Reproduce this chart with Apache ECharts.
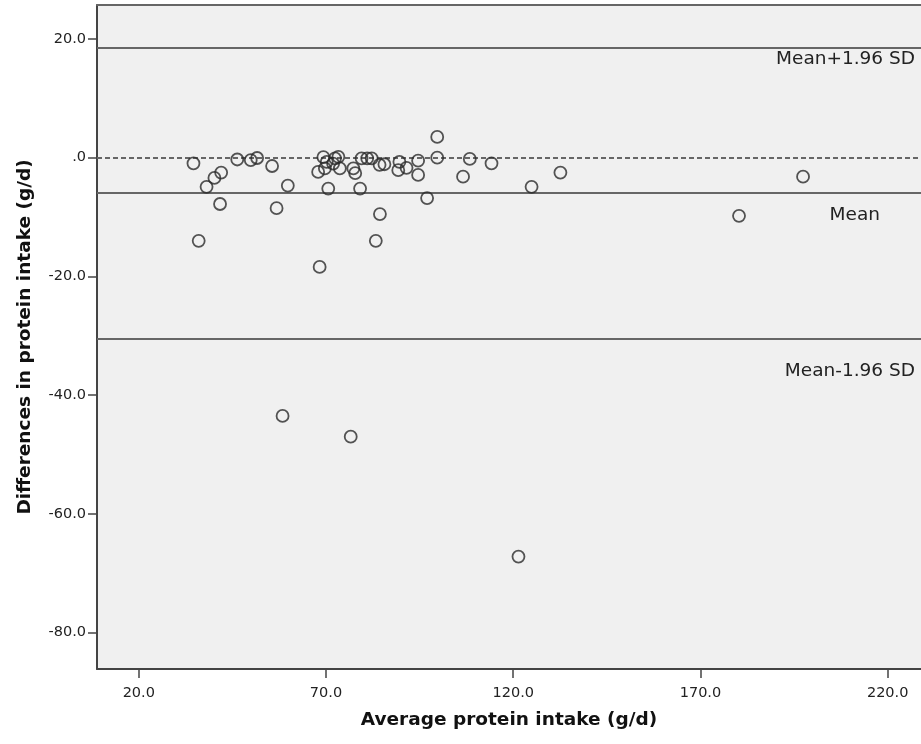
<!DOCTYPE html>
<html>
<head>
<meta charset="utf-8">
<script src="https://cdn.jsdelivr.net/npm/echarts@6/dist/echarts.min.js"></script>
<style>
html,body{margin:0;padding:0;background:#fff;}
#c{width:921px;height:744px;}
</style>
</head>
<body>
<div id="c"></div>
<script>
// Average protein intake (g/d)
const avgIntake = [34.6,36.0,38.1,40.2,42.0,41.7,46.3,49.9,51.6,55.6,56.8,58.4,59.8,67.9,68.3,69.3,69.7,70.2,70.6,71.9,72.4,73.3,73.7,76.6,77.3,77.8,79.1,79.5,81.0,82.2,83.3,84.4,84.3,85.6,89.3,89.6,91.5,94.6,94.6,97.0,99.7,99.7,106.6,108.4,114.2,121.4,124.9,132.6,180.3,197.4];
// Differences in protein intake (g/d)
const diffIntake = [-0.95,-14.0,-4.9,-3.4,-2.5,-7.8,-0.3,-0.4,-0.05,-1.4,-8.5,-43.5,-4.7,-2.4,-18.4,0.1,-1.8,-0.7,-5.2,-1.0,-0.1,0.15,-1.8,-47.0,-1.8,-2.6,-5.2,-0.1,-0.1,-0.1,-14.0,-9.5,-1.2,-1.1,-2.1,-0.7,-1.7,-0.5,-2.9,-6.8,3.5,0.0,-3.2,-0.2,-0.95,-67.2,-4.9,-2.5,-9.8,-3.2];
const meanDiff = -5.95;
const upperLoA = 18.55;
const lowerLoA = -30.45;
const xTicks = [20,70,120,170,220];
const yTicks = [-80,-60,-40,-20,0,20];
const refLabels = ['Mean+1.96 SD','Mean','Mean-1.96 SD'];

const points = avgIntake.map((x,i)=>[x,diffIntake[i]]);
const chart = echarts.init(document.getElementById('c'),null,{renderer:'canvas'});
const font = 'DejaVu Sans, sans-serif';
const refLabel = (text, dx, dy) => ({show:true,formatter:text,position:'insideEndBottom',distance:[dx,dy],fontFamily:font,fontSize:18.5,color:'#222'});
chart.setOption({
  animation:false,
  backgroundColor:'#ffffff',
  grid:{left:97,top:5,right:0,bottom:75,show:true,backgroundColor:'#f0f0f0',borderWidth:0,containLabel:false},
  xAxis:[{
    type:'value',min:8.84,max:228.9,
    name:'Average protein intake (g/d)',nameLocation:'middle',nameGap:42,
    nameTextStyle:{fontFamily:font,fontWeight:'bold',fontSize:18.5,color:'#111'},
    axisLine:{show:true,onZero:false,lineStyle:{color:'#444',width:2}},
    axisTick:{show:true,length:9,customValues:xTicks,lineStyle:{color:'#444',width:1.5}},
    axisLabel:{customValues:xTicks,formatter:v=>v.toFixed(1),fontFamily:font,fontSize:14.5,color:'#222',margin:17},
    splitLine:{show:false}
  },{
    type:'value',position:'top',min:8.84,max:228.9,
    axisLine:{show:true,onZero:false,lineStyle:{color:'#666',width:2}},
    axisTick:{show:false},axisLabel:{show:false},splitLine:{show:false}
  }],
  yAxis:{
    type:'value',min:-86.15,max:25.73,
    name:'Differences in protein intake (g/d)',nameLocation:'middle',nameGap:62,
    nameTextStyle:{fontFamily:font,fontWeight:'bold',fontSize:18.5,color:'#111'},
    axisLine:{show:true,onZero:false,lineStyle:{color:'#444',width:2}},
    axisTick:{show:true,length:9,customValues:yTicks,lineStyle:{color:'#444',width:1.5}},
    axisLabel:{customValues:yTicks,formatter:v=>v===0?'.0':v.toFixed(1),fontFamily:font,fontSize:14.5,color:'#222',margin:11},
    splitLine:{show:false}
  },
  series:[
    {
      type:'line',data:[],
      markLine:{
        silent:true,symbol:'none',animation:false,
        data:[
          {yAxis:0,lineStyle:{type:[5,3],color:'#666',width:2},label:{show:false}},
          {yAxis:upperLoA,lineStyle:{type:'solid',color:'#666',width:2},label:refLabel(refLabels[0],6,2)},
          {yAxis:meanDiff,lineStyle:{type:'solid',color:'#666',width:2},label:refLabel(refLabels[1],41,13)},
          {yAxis:lowerLoA,lineStyle:{type:'solid',color:'#666',width:2},label:refLabel(refLabels[2],6,23)}
        ]
      }
    },
    {
      type:'scatter',data:points,symbol:'circle',symbolSize:12,
      itemStyle:{color:'rgba(0,0,0,0)',borderColor:'#2a2a2a',borderWidth:1.8},
      z:5
    }
  ]
});
</script>
</body>
</html>
